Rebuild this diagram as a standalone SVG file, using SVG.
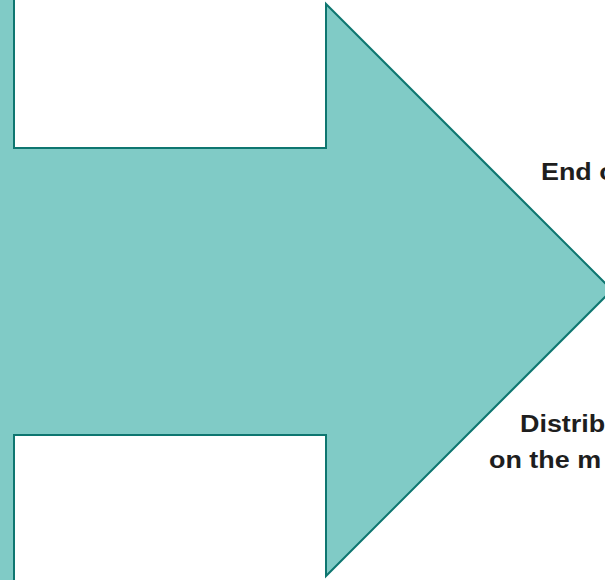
<svg xmlns="http://www.w3.org/2000/svg" width="605" height="580" viewBox="0 0 605 580">
  <style>
    .arrow { fill: #80CBC6; stroke: #0E7670; stroke-width: 2; stroke-linejoin: miter; }
    .lbl { font-family: "Liberation Sans", Arial, sans-serif; font-size: 23px; font-weight: bold; fill: #1e1e1e; }
  </style>
  <rect width="605" height="580" fill="#ffffff"/>
  <!-- big block arrow pointing right -->
  <g id="arrow">
    <polygon class="arrow" points="14,-10 14,148 326,148 326,4 612,290 326,576 326,435 14,435 14,590 -10,590 -10,-10"/>
  </g>
  <!-- labels to the right of the arrow tip (wide-set sans, stretched horizontally) -->
  <g id="label-top">
    <text class="lbl" transform="translate(541 180) scale(1.17 1)">End o</text>
  </g>
  <g id="label-bottom">
    <text class="lbl" transform="translate(520 432) scale(1.17 1)">Distrib</text>
    <text class="lbl" transform="translate(489 468) scale(1.17 1)">on the m</text>
  </g>
</svg>
